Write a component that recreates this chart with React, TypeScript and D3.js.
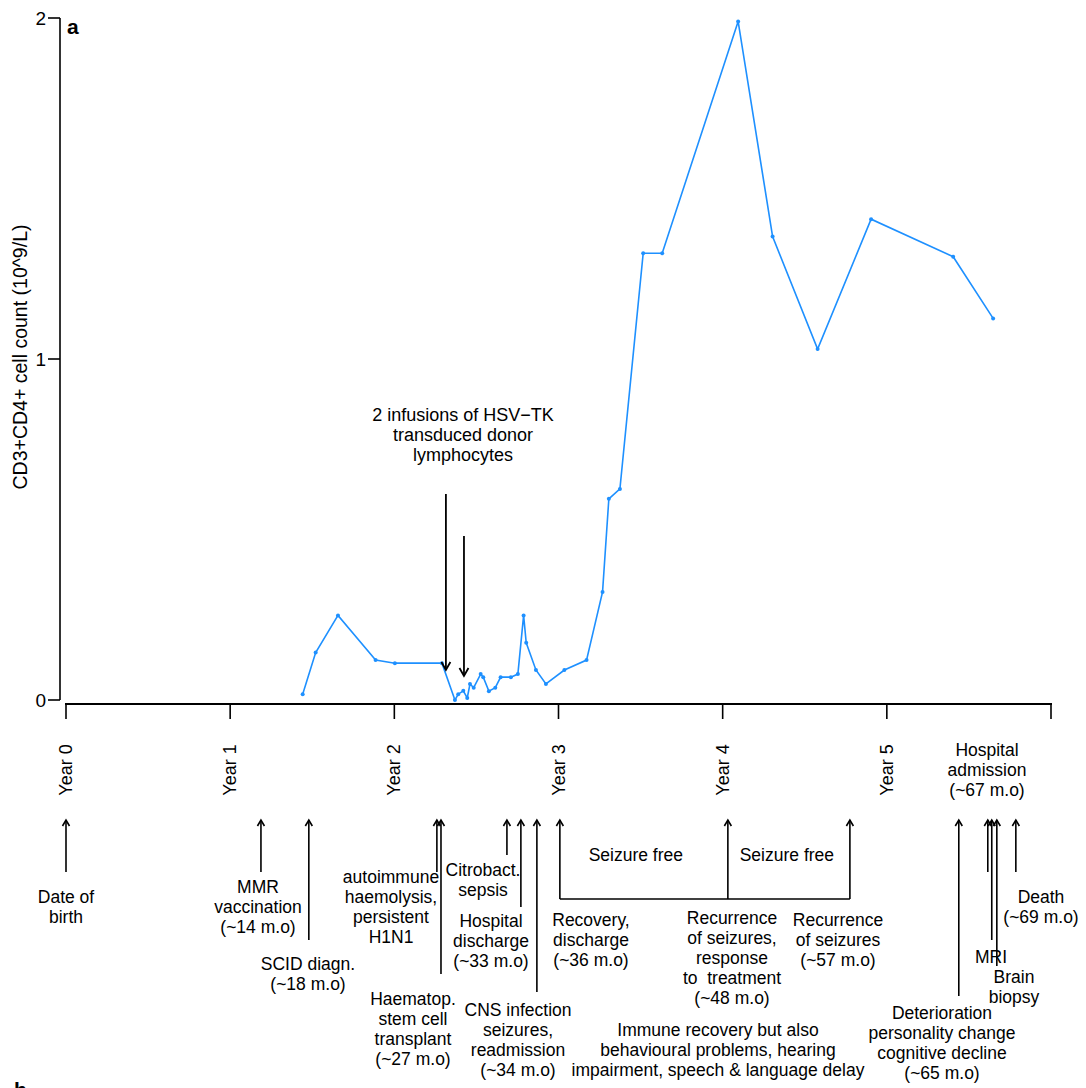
import React from "react";
import * as d3 from "d3";

// ---- Data (time in months since birth, CD3+CD4+ count in 10^9/L) ----
const MONTHS = [
  17.3, 18.25, 19.88, 22.63, 24.04, 27.48, 28.43, 28.67, 29.04, 29.33, 29.53, 29.8,
  30.31, 30.5, 30.91, 31.38, 31.77, 32.52, 33.03, 33.45, 33.64, 34.35, 35.08, 36.43,
  38.05, 39.22, 39.68, 40.49, 42.19, 43.58, 49.13, 51.65, 54.94, 58.85, 64.85, 67.77,
];
const CD4 = [
  0.017, 0.139, 0.248, 0.117, 0.108, 0.108, 0.0, 0.017, 0.027, 0.006, 0.047, 0.036,
  0.076, 0.067, 0.026, 0.036, 0.067, 0.067, 0.076, 0.248, 0.168, 0.088, 0.047, 0.088,
  0.117, 0.317, 0.59, 0.619, 1.31, 1.31, 1.99, 1.359, 1.029, 1.41, 1.3, 1.119,
];
const Y_TICKS = [0, 1, 2];
const X_TICKS = [0, 12, 24, 36, 48, 60, 72];
const X_TICK_LABELS = ["Year 0", "Year 1", "Year 2", "Year 3", "Year 4", "Year 5", ""];
const Y_LABEL = "CD3+CD4+ cell count (10^9/L)";

const INFUSION_MONTHS = [27.77, 29.09];
const INFUSION_TEXT = ["2 infusions of HSV\u2212TK", "transduced donor", "lymphocytes"];

// timeline events below the axis
const EVENT_MONTHS = [0, 14.25, 17.75, 27.11, 27.41, 32.23, 33.25, 34.42, 65.26, 67.38, 67.67, 68.04, 69.43];
const EVENT_LABELS = [
  ["Date of", "birth"],
  ["MMR", "vaccination", "(~14 m.o)"],
  ["SCID diagn.", "(~18 m.o)"],
  ["autoimmune", "haemolysis,", "persistent", "H1N1"],
  ["Haematop.", "stem cell", "transplant", "(~27 m.o)"],
  ["Citrobact.", "sepsis"],
  ["Hospital", "discharge", "(~33 m.o)"],
  ["CNS infection", "seizures,", "readmission", "(~34 m.o)"],
  ["Deterioration", "personality change", "cognitive decline", "(~65 m.o)"],
  [],
  ["MRI"],
  ["Brain", "biopsy"],
  ["Death", "(~69 m.o)"],
];
// seizure bracket
const SEIZURE_MONTHS = [36.1, 48.38, 57.3];
const SEIZURE_LABELS = [
  ["Recovery,", "discharge", "(~36 m.o)"],
  ["Recurrence", "of seizures,", "response", "to  treatment", "(~48 m.o)"],
  ["Recurrence", "of seizures", "(~57 m.o)"],
];
const SEIZURE_FREE = "Seizure free";
const IMMUNE_TEXT = ["Immune recovery but also", "behavioural problems, hearing", "impairment, speech & language delay"];
const ADMISSION_TEXT = ["Hospital", "admission", "(~67 m.o)"];

// ---- Layout (pixels) ----
const W = 1086;
const H = 1088;
const FONT = "'Liberation Sans', Arial, Helvetica, sans-serif";
const FS = 17.5;
const LH = 20;
const ARROW_TOP = 820;
// per event: arrow bottom y, text center x, first line center y
const EVENT_LAYOUT = [
  { bottom: 872, tx: 66, ty: 897 },
  { bottom: 872, tx: 258, ty: 887 },
  { bottom: 940, tx: 308, ty: 964 },
  { bottom: 872, tx: 391, ty: 877 },
  { bottom: 974, tx: 413, ty: 999 },
  { bottom: 855, tx: 483, ty: 870 },
  { bottom: 907, tx: 491, ty: 921 },
  { bottom: 992, tx: 518, ty: 1010 },
  { bottom: 996, tx: 942, ty: 1013 },
  { bottom: 872, tx: 988, ty: 0 },
  { bottom: 940, tx: 991, ty: 957 },
  { bottom: 966, tx: 1014, ty: 977 },
  { bottom: 872, tx: 1041, ty: 897 },
];
const SEIZURE_LAYOUT = [
  { tx: 591, ty: 920 },
  { tx: 732, ty: 918 },
  { tx: 838, ty: 920 },
];
const BRACKET_Y = 899;

function Lines({ x, y, lines, size = FS, lh = LH }: { x: number; y: number; lines: string[]; size?: number; lh?: number }) {
  return (
    <text x={x} y={y} textAnchor="middle" fontFamily={FONT} fontSize={size} fill="#000">
      {lines.map((l, i) => (
        <tspan key={i} x={x} y={y + i * lh + size * 0.36} style={{ whiteSpace: "pre" }}>
          {l}
        </tspan>
      ))}
    </text>
  );
}

function UpArrow({ x, y1, y2 }: { x: number; y1: number; y2: number }) {
  return (
    <g stroke="#000" strokeWidth={1.6} fill="none">
      <line x1={x} y1={y1} x2={x} y2={y2} />
      <path d={`M${x - 3.5},${y1 + 6} L${x},${y1} L${x + 3.5},${y1 + 6}`} />
    </g>
  );
}

function DownArrow({ x, y1, y2 }: { x: number; y1: number; y2: number }) {
  return (
    <g stroke="#000" strokeWidth={1.8} fill="none">
      <line x1={x} y1={y1} x2={x} y2={y2} />
      <path d={`M${x - 4.5},${y2 - 8} L${x},${y2} L${x + 4.5},${y2 - 8}`} />
    </g>
  );
}

export default function App() {
  const x = d3.scaleLinear().domain([0, 72]).range([66, 1051]);
  const y = d3.scaleLinear().domain([0, 2]).range([700, 18]);
  const yAxisX = 60;
  const xAxisY = 704;

  const pts = MONTHS.map((m, i) => [m, CD4[i]] as [number, number]);
  const line = d3
    .line<[number, number]>()
    .x((d) => x(d[0]))
    .y((d) => y(d[1]));

  const infusionTails = [494, 536];
  const infusionHeads = [670, 676];

  return (
    <svg width={W} height={H} style={{ position: "absolute", left: 0, top: 0, background: "#fff" }}>
      <rect width={W} height={H} fill="#fff" />
      {/* y axis */}
      <line x1={yAxisX} y1={y(0)} x2={yAxisX} y2={y(2)} stroke="#000" strokeWidth={1.6} />
      {Y_TICKS.map((t) => (
        <g key={t}>
          <line x1={yAxisX - 12} x2={yAxisX} y1={y(t)} y2={y(t)} stroke="#000" strokeWidth={1.6} />
          <text x={yAxisX - 14} y={y(t) + 7} textAnchor="end" fontFamily={FONT} fontSize={19}>
            {t}
          </text>
        </g>
      ))}
      <text
        transform={`translate(27,${357}) rotate(-90)`}
        textAnchor="middle"
        fontFamily={FONT}
        fontSize={19.5}
      >
        {Y_LABEL}
      </text>
      <text x={67} y={34} fontFamily={FONT} fontSize={21} fontWeight="bold">
        a
      </text>

      {/* x axis */}
      <line x1={x(0) - 1} x2={x(72) + 1} y1={xAxisY} y2={xAxisY} stroke="#000" strokeWidth={2.2} />
      {X_TICKS.map((t, i) => (
        <g key={t}>
          <line x1={x(t)} x2={x(t)} y1={xAxisY} y2={xAxisY + 15} stroke="#000" strokeWidth={1.6} />
          {X_TICK_LABELS[i] && (
            <text
              transform={`translate(${x(t) + 6},${770}) rotate(-90)`}
              textAnchor="middle"
              fontFamily={FONT}
              fontSize={18}
            >
              {X_TICK_LABELS[i]}
            </text>
          )}
        </g>
      ))}

      {/* data */}
      <path d={line(pts) || ""} fill="none" stroke="#1E90FF" strokeWidth={1.6} />
      {pts.map((d, i) => (
        <circle key={i} cx={x(d[0])} cy={y(d[1])} r={2} fill="#1E90FF" />
      ))}

      {/* infusions */}
      <Lines x={463} y={415} lines={INFUSION_TEXT} size={18} />
      {INFUSION_MONTHS.map((m, i) => (
        <DownArrow key={i} x={x(m)} y1={infusionTails[i]} y2={infusionHeads[i]} />
      ))}

      {/* events */}
      {EVENT_MONTHS.map((m, i) => (
        <g key={i}>
          <UpArrow x={x(m)} y1={ARROW_TOP} y2={EVENT_LAYOUT[i].bottom} />
          {EVENT_LABELS[i].length > 0 && (
            <Lines x={EVENT_LAYOUT[i].tx} y={EVENT_LAYOUT[i].ty} lines={EVENT_LABELS[i]} />
          )}
        </g>
      ))}

      {/* seizure bracket */}
      <line
        x1={x(SEIZURE_MONTHS[0])}
        x2={x(SEIZURE_MONTHS[2])}
        y1={BRACKET_Y}
        y2={BRACKET_Y}
        stroke="#000"
        strokeWidth={1.6}
      />
      {SEIZURE_MONTHS.map((m, i) => (
        <g key={i}>
          <UpArrow x={x(m)} y1={ARROW_TOP} y2={BRACKET_Y} />
          <Lines x={SEIZURE_LAYOUT[i].tx} y={SEIZURE_LAYOUT[i].ty} lines={SEIZURE_LABELS[i]} />
        </g>
      ))}
      <Lines x={(x(SEIZURE_MONTHS[0]) + x(SEIZURE_MONTHS[1])) / 2 - 8} y={855} lines={[SEIZURE_FREE]} />
      <Lines x={(x(SEIZURE_MONTHS[1]) + x(SEIZURE_MONTHS[2])) / 2 - 2} y={855} lines={[SEIZURE_FREE]} />

      <Lines x={718} y={1030} lines={IMMUNE_TEXT} />
      <Lines x={987} y={750} lines={ADMISSION_TEXT} />

      <text x={14} y={1097} fontFamily={FONT} fontSize={21} fontWeight="bold">
        b
      </text>
    </svg>
  );
}
